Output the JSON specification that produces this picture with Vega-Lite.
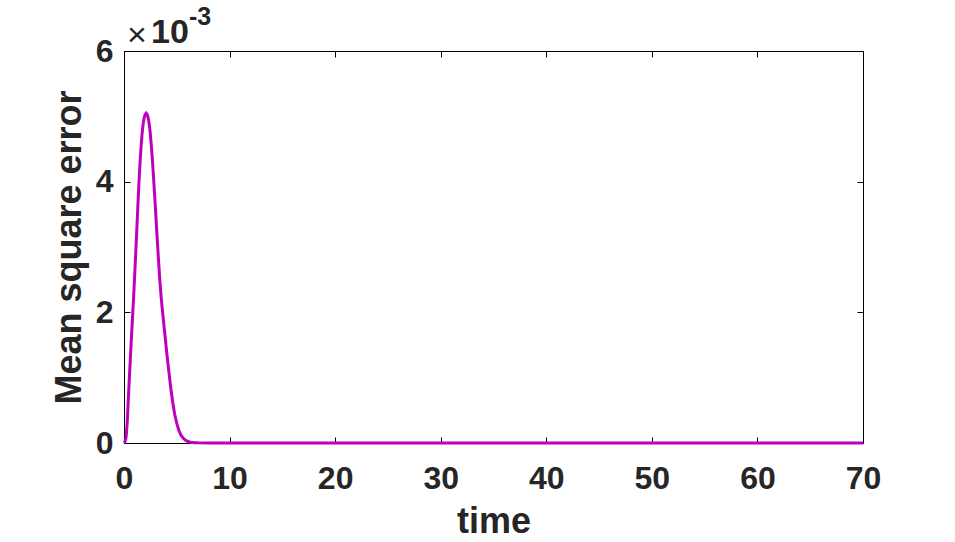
{
  "$schema": "https://vega.github.io/schema/vega-lite/v6.json",
  "width": 739,
  "height": 392,
  "autosize": "none",
  "padding": {"left": 124, "top": 51, "right": 92, "bottom": 99},
  "background": "white",
  "config": {
    "view": {"stroke": "black", "strokeWidth": 1},
    "axis": {
      "labelFont": "Liberation Sans",
      "labelFontWeight": "bold",
      "labelFontSize": 32,
      "labelColor": "#262626",
      "labelFlush": false,
      "titleFont": "Liberation Sans",
      "titleFontSize": 36,
      "titleFontWeight": "bold",
      "titleColor": "#262626",
      "grid": false,
      "domainColor": "black",
      "tickColor": "black",
      "tickSize": -6
    }
  },
  "data": {
    "values": [
      {"t": 0, "mse": 0},
      {"t": 0.1, "mse": 0.00002},
      {"t": 0.2, "mse": 0.00009},
      {"t": 0.3, "mse": 0.0003},
      {"t": 0.4, "mse": 0.00064},
      {"t": 0.5, "mse": 0.00097},
      {"t": 0.6, "mse": 0.00129},
      {"t": 0.7, "mse": 0.0016},
      {"t": 0.8, "mse": 0.0019},
      {"t": 0.9, "mse": 0.0022},
      {"t": 1.0, "mse": 0.00253},
      {"t": 1.1, "mse": 0.00287},
      {"t": 1.2, "mse": 0.00322},
      {"t": 1.3, "mse": 0.00358},
      {"t": 1.4, "mse": 0.00393},
      {"t": 1.5, "mse": 0.00424},
      {"t": 1.6, "mse": 0.0045},
      {"t": 1.7, "mse": 0.00471},
      {"t": 1.8, "mse": 0.00487},
      {"t": 1.9, "mse": 0.00497},
      {"t": 2.0, "mse": 0.00503},
      {"t": 2.1, "mse": 0.00505},
      {"t": 2.2, "mse": 0.00503},
      {"t": 2.3, "mse": 0.00497},
      {"t": 2.4, "mse": 0.00487},
      {"t": 2.5, "mse": 0.00472},
      {"t": 2.6, "mse": 0.00453},
      {"t": 2.7, "mse": 0.00431},
      {"t": 2.8, "mse": 0.00406},
      {"t": 2.9, "mse": 0.0038},
      {"t": 3.0, "mse": 0.00353},
      {"t": 3.1, "mse": 0.00325},
      {"t": 3.2, "mse": 0.00298},
      {"t": 3.3, "mse": 0.00272},
      {"t": 3.4, "mse": 0.00248},
      {"t": 3.5, "mse": 0.00227},
      {"t": 3.6, "mse": 0.00209},
      {"t": 3.7, "mse": 0.00193},
      {"t": 3.8, "mse": 0.00177},
      {"t": 3.9, "mse": 0.00162},
      {"t": 4.0, "mse": 0.00146},
      {"t": 4.2, "mse": 0.00116},
      {"t": 4.4, "mse": 0.00088},
      {"t": 4.6, "mse": 0.00064},
      {"t": 4.8, "mse": 0.00044},
      {"t": 5.0, "mse": 0.0003},
      {"t": 5.2, "mse": 0.00019},
      {"t": 5.4, "mse": 0.00012},
      {"t": 5.6, "mse": 0.000075},
      {"t": 5.8, "mse": 0.000045},
      {"t": 6.0, "mse": 0.000027},
      {"t": 6.3, "mse": 0.000013},
      {"t": 6.7, "mse": 0.000005},
      {"t": 7.0, "mse": 0.000002},
      {"t": 8.0, "mse": 0.0000005},
      {"t": 10, "mse": 0.0000001},
      {"t": 15, "mse": 0},
      {"t": 20, "mse": 0},
      {"t": 30, "mse": 0},
      {"t": 40, "mse": 0},
      {"t": 50, "mse": 0},
      {"t": 60, "mse": 0},
      {"t": 70, "mse": 0}
    ]
  },
  "layer": [
    {
      "mark": {"type": "line", "strokeOpacity": 0},
      "encoding": {
        "x": {"field": "t", "type": "quantitative",
          "scale": {"domain": [0, 70], "nice": false},
          "axis": {"orient": "top", "labels": false, "title": null, "domain": false, "values": [0, 10, 20, 30, 40, 50, 60, 70]}},
        "y": {"field": "mse", "type": "quantitative",
          "scale": {"domain": [0, 0.006], "nice": false},
          "axis": {"orient": "right", "labels": false, "title": null, "domain": false, "values": [0, 0.002, 0.004, 0.006]}}
      }
    },
    {
      "mark": {"type": "line", "color": "#BD00BD", "strokeWidth": 3},
      "encoding": {
        "x": {"field": "t", "type": "quantitative",
          "scale": {"domain": [0, 70], "nice": false},
          "axis": {"orient": "bottom", "title": "time", "labelPadding": 26, "titlePadding": 10, "values": [0, 10, 20, 30, 40, 50, 60, 70]}},
        "y": {"field": "mse", "type": "quantitative",
          "scale": {"domain": [0, 0.006], "nice": false},
          "axis": {"orient": "left", "title": "Mean square error", "labelPadding": 17, "titlePadding": 7,
            "values": [0, 0.002, 0.004, 0.006], "labelExpr": "format(datum.value * 1000, 'd')"}}
      }
    },
    {
      "data": {"values": [{"t": 0, "mse": 0.006, "txt": "×"}]},
      "mark": {"type": "text", "align": "left", "baseline": "alphabetic", "font": "Liberation Sans", "fontSize": 34, "color": "#262626", "dx": 3, "dy": -5},
      "encoding": {
        "x": {"field": "t", "type": "quantitative", "axis": null},
        "y": {"field": "mse", "type": "quantitative", "axis": null},
        "text": {"field": "txt"}
      }
    },
    {
      "data": {"values": [{"t": 0, "mse": 0.006, "txt": "10"}]},
      "mark": {"type": "text", "align": "left", "baseline": "alphabetic", "font": "Liberation Sans", "fontWeight": "bold", "fontSize": 34, "color": "#262626", "dx": 27, "dy": -8},
      "encoding": {
        "x": {"field": "t", "type": "quantitative", "axis": null},
        "y": {"field": "mse", "type": "quantitative", "axis": null},
        "text": {"field": "txt"}
      }
    },
    {
      "data": {"values": [{"t": 0, "mse": 0.006, "txt": "-3"}]},
      "mark": {"type": "text", "align": "left", "baseline": "alphabetic", "font": "Liberation Sans", "fontWeight": "bold", "fontSize": 25, "color": "#262626", "dx": 65, "dy": -26},
      "encoding": {
        "x": {"field": "t", "type": "quantitative", "axis": null},
        "y": {"field": "mse", "type": "quantitative", "axis": null},
        "text": {"field": "txt"}
      }
    }
  ],
  "resolve": {"axis": {"x": "independent", "y": "independent"}}
}
